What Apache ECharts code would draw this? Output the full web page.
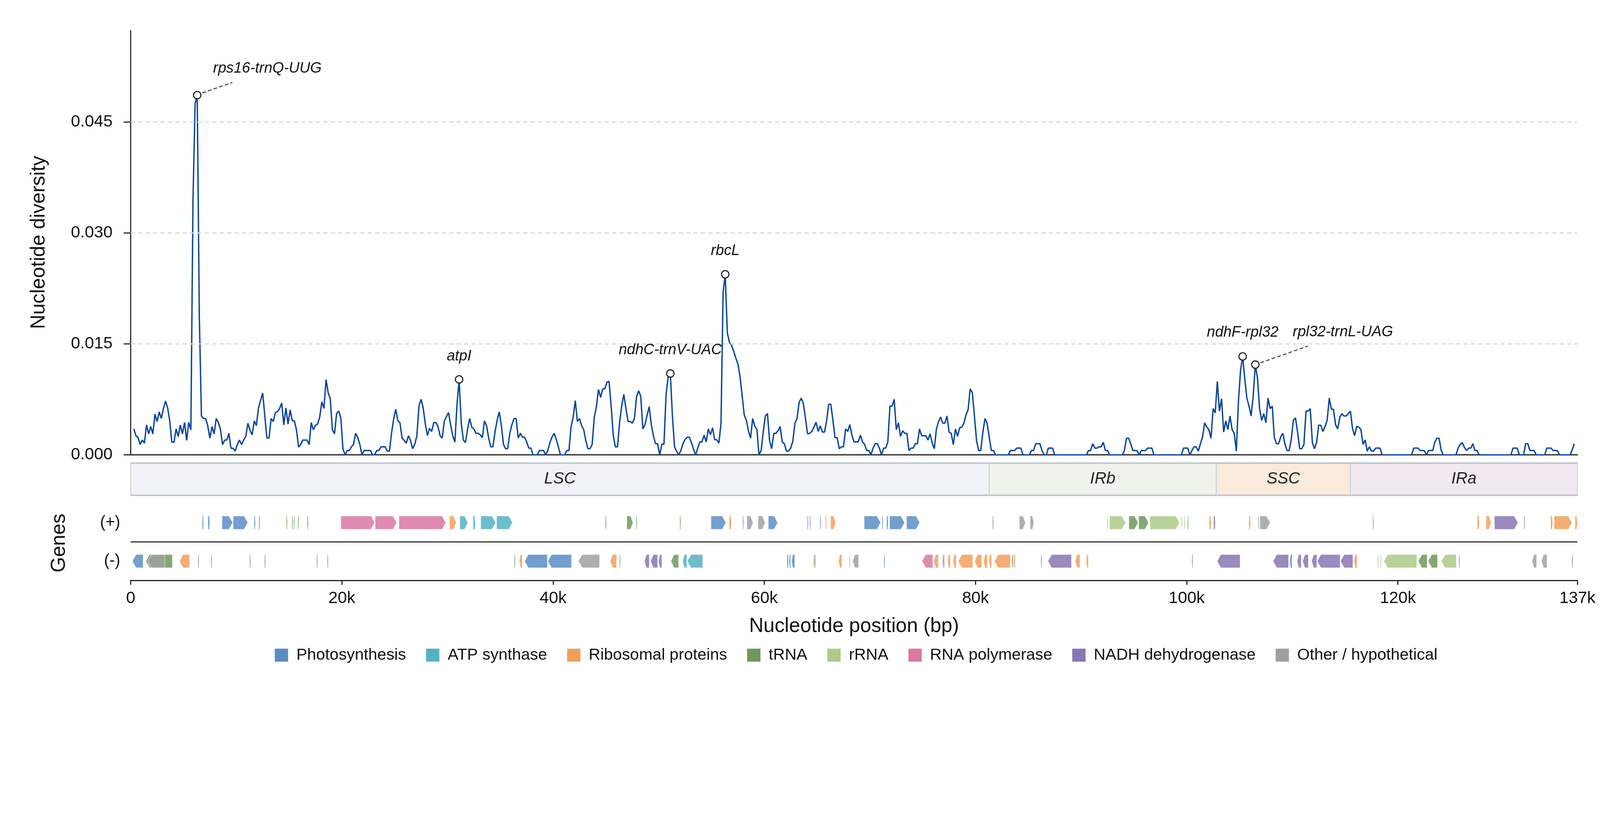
<!DOCTYPE html>
<html><head><meta charset="utf-8">
<script src="https://cdn.jsdelivr.net/npm/echarts@6/dist/echarts.min.js"></script>
<style>html,body{margin:0;padding:0;background:#fff;overflow:hidden}#c{width:100vw;height:100vh}</style>
</head><body><div id="c"></div>
<script>
const FONT = '"Liberation Sans", Arial, Helvetica, sans-serif';

// ---------------- DATA ----------------
const genomeLength = 137000;
const windowFirst = 300, windowStep = 200;   // sliding-window midpoints (bp)
// nucleotide diversity (x 10^-3) per window
const piLSC = [
3.51,2.59,2.34,1.42,2.01,1.59,4.04,2.84,3.84,2.84,
5.51,4.51,5.81,4.92,6.26,7.26,6.34,4.59,1.72,1.72,
3.51,2.51,4.04,2.84,4.39,1.96,4.39,3.39,34.4,47.4,
48.6,18.7,5.26,4.92,4.92,3.92,2.26,3.84,2.84,4.92,
4.39,3.46,1.39,2.01,2.01,2.92,0.89,0.89,0.51,1.42,
2.01,1.39,2.01,2.51,4.29,3.31,2.72,4.59,3.96,6.34,
7.34,8.37,5.26,2.29,2.29,4.92,4.51,5.72,5.84,6.26,
7.01,4.06,6.34,4.17,6.09,4.64,4.59,3.39,1.06,1.42,
2.01,2.01,2.01,1.39,4.37,3.39,4.01,4.17,5.12,7.17,
6.29,10.17,8.42,7.56,3.42,2.84,5.59,5.92,5.01,0.84,
0,0.59,0.59,1.09,1.42,2.92,2.34,1.42,0,0.59,
0.59,0.59,0.59,0,0,0.59,0.59,1.09,1.09,1.09,
0.51,0.51,2.92,4.84,6.17,4.64,4.34,2.29,1.96,1.59,
2.59,1.96,0.84,1.42,2.59,6.59,7.51,6.34,4.17,2.62,
3.59,3.17,4.37,4.37,3.84,2.59,2.29,4.59,5.17,5.72,
4.01,2.59,1.72,6.76,10.2,4.34,2.01,1.67,3.46,4.92,
3.76,3.51,2.92,2.92,2.72,2.34,4.59,3.96,2.26,1.09,
1.09,3.09,4.67,5.81,4.01,1.42,0.84,0.84,2.92,4.09,
4.92,4.92,2.29,2.92,2.39,2.39,1.76,0.92,0.92,0,
0,0,0.59,0.59,0.59,0,0.59,1.67,2.42,2.92,
2.09,1.09,0,0,0,0.59,0.59,3.76,5.09,7.34,
4.51,4.92,3.97,3.42,1.92,0.84,0.84,1.42,5.09,6.51,
8.84,7.76,8.92,8.92,9.84,9.92,6.59,2.59,1.09,1.09,
4.42,6.67,8.17,6.26,4.51,4.51,4.29,4.92,7.84,8.67,
7.92,3.51,4.09,5.34,6.51,4.09,2.59,1.51,1.51,0,
1.46,1.46,8.17,10.59,11.0,5.26,1.09,0.51,0,0.59,
1.51,2.09,2.39,2.39,1.67,0.76,0,0.92,1.76,1.76,
2.67,1.76,3.51,2.72,3.67,2.06,2.06,1.59,4.26,22.0,
24.4,16.5,15.2,14.8,14.0,13.1,12.3,10.6,8.1,5.4,
4.7,3.26,2.26,4.92,3.92,3.42,0,0.59,3.09,5.26,
5.59,1.92,0.84,2.92,2.92,3.26,3.84,1.76,1.51,0.51,
0.51,0.92,1.84,4.26,4.92,7.09,7.67,6.92,4.92,2.84,
2.92,3.17,3.76,4.42,3.17,3.92,3.09,3.09,4.59,6.84,
6.84,4.67,2.34,2.34,0.84,1.09,1.09,3.51,3.17,4.09,
2.67,1.76,1.76,1.76,2.67,1.76,1.42,0.59,0.59,0,
0.92,1.51,1.51,0.92,0,0.92,0.92,1.76,6.59,6.59,
7.51,3.42,4.34,2.51,3.26,2.92,2.92,0.59,0.92,0.92,
1.51,1.51,3.51,2.59,2.59,2.59,2.01,2.84,1.59,0.84,
3.51,4.51,5.12,4.29,4.29,5.26,3.09,2.92,1.39,3.51,
2.51,3.67,3.76,4.26,5.42,6.09,8.92,8.42,5.26,1.92,
0.59,0.59,3.09,4.92,4.29];
const piIRb = [
2.42,0.59,0.59,0,0,
0,0,0,0,0,0.59,0.59,0.59,0.92,0.92,
0.92,0,0,0,0,0.59,0.59,1.51,1.51,1.51,
0.59,0,0,0.92,0.92,0.92,0,0,0,0,
0,0,0,0,0,0,0,0,0,0,
0,0,0.59,0.59,1.51,0.92,0.92,1.09,1.09,1.71,
0.59,0.59,0,0,0,0,0,0,0,0.59,
2.26,2.26,1.51,0.59,0.59,0.59,0,0.59,0.59,0.59,
0.92,0.92,0.92,0,0,0,0,0,0,0,
0,0,0,0,0,0,0,0.92,0.92,0.92,
0,0.59,1.09,1.09,0.51,1.51,2.42,4.34,3.76,3.42,
2.26,6.26,5.67];
const piSSC = [
9.92,5.92,7.59,3.09,4.59,3.42,5.26,
3.42,2.92,0.51,7.26,11.42,13.3,10.25,7.67,6.59,5.26,
8.0,12.2,10.4,6.26,4.67,5.59,4.34,7.67,6.26,6.59,
2.34,1.51,1.51,2.42,2.92,1.51,0.59,0.59,2.09,4.67,
5.01,3.09,0.84,0.84,1.42,5.92,5.92,6.26,1.67,0.84,
1.67,4.01,4.01,3.17,3.84,4.67,7.67,6.17,6.17,4.09,
3.51,5.09,5.59,5.26,5.26,5.59];
const piIRa = [
5.92,3.59,2.59,3.84,
3.76,3.42,1.42,2.01,0.51,1.09,0.51,0.51,0.92,0.92,
0.92,0,0,0,0,0,0,0,0,0,
0,0,0,0,0,0,0.92,0.92,0.92,0.59,
0.59,0.59,0,0.59,0.59,0.59,1.76,2.26,2.26,0.59,
0,0,0,0,0,0,0,0.92,1.42,1.67,
1.01,0.59,0.92,0.92,1.51,0.59,0.59,0,0,0,
0,0,0,0,0,0,0,0,0,0,
0,0,0,0.92,0.92,0.92,0,0,0,1.51,
1.51,0.59,0.59,0.59,0,0,0,0,0,0.92,
0.92,0.92,0.59,0.59,0.59,0,0,0,0,0,
0,0.67,1.51];

const yTicks = [0, 15, 30, 45];                 // x 10^-3
const xTickStep = 20000;

const regionNames  = ['LSC', 'IRb', 'SSC', 'IRa'];
const regionStarts = [0, 81300, 102800, 115500];
const regionEnds   = [81300, 102800, 115500, 137000];

const peakNames = ['rps16-trnQ-UUG', 'atpI', 'ndhC-trnV-UAC', 'rbcL', 'ndhF-rpl32', 'rpl32-trnL-UAG'];
const peakPos   = [6300, 31100, 51100, 56300, 105300, 106500];
const peakVal   = [48.6, 10.2, 11.0, 24.4, 13.3, 12.2];

const categoryKeys  = ['ps', 'atp', 'rib', 'trna', 'rrna', 'rpo', 'ndh', 'oth'];
const categoryNames = ['Photosynthesis', 'ATP synthase', 'Ribosomal proteins', 'tRNA', 'rRNA', 'RNA polymerase', 'NADH dehydrogenase', 'Other / hypothetical'];

// [start, end, category]
const genesPlus = [
[6800,6900,'ps'],[7330,7480,'ps'],[8650,9660,'ps'],[9700,11090,'ps'],[11700,11800,'ps'],[12150,12230,'ps'],
[14760,14830,'trna'],[15280,15350,'trna'],[15460,15530,'trna'],[15860,15930,'trna'],[16730,16810,'ps'],
[19900,23110,'rpo'],[23150,25190,'rpo'],[25400,29850,'rpo'],[30190,30830,'rib'],
[31170,31930,'atp'],[32440,32640,'atp'],[33150,34570,'atp'],[34650,36160,'atp'],
[44960,45040,'trna'],[46980,47570,'trna'],[47880,47950,'trna'],[52010,52090,'trna'],
[54950,56370,'ps'],[56680,56910,'rib'],[57970,58040,'ps'],[58350,58930,'oth'],[59410,60080,'oth'],[60380,61270,'ps'],
[64090,64160,'ps'],[64310,64380,'ps'],[65280,65350,'ps'],[65810,65890,'rib'],[66280,66770,'rib'],
[69460,71020,'ps'],[71170,71240,'ps'],[71600,71730,'ps'],[71870,73290,'ps'],[73470,74720,'ps'],
[81630,81700,'trna'],[84150,84730,'oth'],[85170,85530,'oth'],
[92480,92550,'rrna'],[92690,94210,'rrna'],[94520,95410,'trna'],[95450,96390,'trna'],[96520,99320,'rrna'],
[99510,99580,'rrna'],[99780,99850,'rrna'],[100090,100160,'trna'],
[102130,102350,'rib'],[102560,102700,'ndh'],[105900,106040,'rib'],[106770,106840,'oth'],[106930,107910,'oth'],
[117630,117700,'trna'],[127530,127710,'rib'],[128340,128830,'rib'],[129140,131370,'ndh'],[131950,132020,'trna'],
[134480,134650,'rib'],[134790,136490,'rib'],[136790,136990,'rib']
];
const genesMinus = [
[160,1180,'ps'],[1440,3950,'trna'],[1620,3240,'oth'],[4610,5580,'rib'],[6380,6450,'trna'],[7610,7680,'trna'],
[11270,11340,'trna'],[12680,12750,'trna'],[17610,17680,'ps'],[18620,18690,'trna'],
[36330,36400,'trna'],[36800,37080,'rib'],[37300,39460,'ps'],[39500,41750,'ps'],[42400,44400,'oth'],
[45400,46020,'rib'],[46290,46360,'trna'],[48650,49110,'ndh'],[49230,49900,'ndh'],[49980,50300,'ndh'],
[51160,51890,'trna'],[52270,52670,'atp'],[52710,54170,'atp'],
[62140,62260,'ps'],[62360,62480,'ps'],[62580,62890,'ps'],[64680,64750,'trna'],[64790,64850,'trna'],
[67030,67340,'rib'],[68050,68120,'rib'],[68350,68930,'oth'],[71340,71410,'ps'],
[74940,75960,'rpo'],[76050,76490,'rib'],[76850,77070,'oth'],[77340,77610,'rib'],[77870,78180,'rib'],
[78360,79740,'rib'],[79920,80590,'rib'],[80770,81120,'rib'],[81260,81520,'rib'],[81790,83300,'rib'],
[83390,83610,'rib'],[83670,83740,'trna'],[86200,86270,'trna'],[86860,89090,'ndh'],[89440,89890,'rib'],
[90470,90690,'rib'],[100500,100570,'trna'],
[102880,105060,'ndh'],[108180,109650,'ndh'],[109780,109960,'ps'],[110450,110850,'ndh'],[110980,111520,'ndh'],
[111830,112320,'ndh'],[112360,114530,'ndh'],[114560,115740,'ndh'],[115830,116140,'rib'],
[118070,118140,'rrna'],[118340,118410,'rrna'],[118680,121790,'rrna'],[121930,122770,'trna'],[122860,123750,'trna'],
[124110,125530,'rrna'],[125770,125840,'trna'],[132700,133140,'oth'],[133590,134120,'oth'],[136490,136560,'trna']
];

// ---------------- STYLE / LAYOUT (reference pixels, scaled to viewport) ----------------
const REF_W = 4322, REF_H = 2102;
const S = Math.min(window.innerWidth / REF_W, window.innerHeight / REF_H);
const P = v => v * S;

const CAT_COLOR = {ps:'#5b8dc5', atp:'#54b2c3', rib:'#f0a05c', trna:'#6d995c', rrna:'#acca88', rpo:'#da77a3', ndh:'#8b74b3', oth:'#a0a0a0'};
const REGION_FILL = {LSC:'#eff3f7', IRb:'#eef3ec', SSC:'#faeadb', IRa:'#f2e8f2'};
const TRACK_Y = {plus: 1.5, minus: 0.5};
const GENE_HALF_H = 18, HEAD_PX = 10;
const PEAK_LABEL = {
  'rps16-trnQ-UUG': {dx: 43, dy: -72, align: 'left', leader: [14, -6, 95, -34]},
  'atpI':           {dx: 0, dy: -62, align: 'center'},
  'ndhC-trnV-UAC':  {dx: 0, dy: -63, align: 'center'},
  'rbcL':           {dx: 0, dy: -63, align: 'center'},
  'ndhF-rpl32':     {dx: 0, dy: -65, align: 'center'},
  'rpl32-trnL-UAG': {dx: 101, dy: -88, align: 'left', leader: [14, -5, 142, -50]}
};

const piAll = piLSC.concat(piIRb, piSSC, piIRa);
const lineData = piAll.map((v, i) => [windowFirst + windowStep * i, v]);

function renderGene(params, api) {
  const s = api.value(0), e = api.value(1), ty = api.value(2), dir = api.value(3);
  const p0 = api.coord([s, ty]), p1 = api.coord([e, ty]);
  let x0 = p0[0], x1 = p1[0];
  const minW = P(2);
  if (x1 - x0 < minW) { const m = (x0 + x1) / 2; x0 = m - minW / 2; x1 = m + minW / 2; }
  const w = x1 - x0, head = Math.min(P(HEAD_PX), w * 0.4), yc = p0[1], h = P(GENE_HALF_H);
  const pts = dir > 0
    ? [[x0, yc - h], [x1 - head, yc - h], [x1, yc], [x1 - head, yc + h], [x0, yc + h]]
    : [[x1, yc - h], [x0 + head, yc - h], [x0, yc], [x0 + head, yc + h], [x1, yc + h]];
  const big = w > P(6);
  return {type: 'polygon', shape: {points: pts},
    style: {fill: api.visual('color'), opacity: 0.85, stroke: big ? 'rgba(255,255,255,0.75)' : null, lineWidth: big ? P(1.5) : 0}};
}

function renderRegion(params, api) {
  const cs = params.coordSys;
  const x0 = api.coord([api.value(0), 0.5])[0], x1 = api.coord([api.value(1), 0.5])[0];
  const name = regionNames[params.dataIndex];
  return {type: 'group', children: [
    {type: 'rect', shape: {x: x0, y: cs.y, width: x1 - x0, height: cs.height}, style: {fill: REGION_FILL[name], stroke: '#c5cacd', lineWidth: P(2)}},
    {type: 'line', shape: {x1: x0, y1: cs.y, x2: x1, y2: cs.y}, style: {stroke: '#bac4cc', lineWidth: P(4)}},
    {type: 'line', shape: {x1: x0, y1: cs.y + cs.height, x2: x1, y2: cs.y + cs.height}, style: {stroke: '#bac4cc', lineWidth: P(4)}},
    {type: 'text', style: {x: (x0 + x1) / 2, y: cs.y + cs.height / 2, text: name, font: 'italic ' + P(44) + 'px ' + FONT, fill: '#222', align: 'center', verticalAlign: 'middle'}}
  ]};
}

function renderPeak(params, api) {
  const p = api.coord([api.value(0), api.value(1)]);
  const name = peakNames[params.dataIndex];
  const st = PEAK_LABEL[name];
  const ch = [];
  if (st.leader) ch.push({type: 'line', shape: {x1: p[0] + P(st.leader[0]), y1: p[1] + P(st.leader[1]), x2: p[0] + P(st.leader[2]), y2: p[1] + P(st.leader[3])},
    style: {stroke: '#444', lineWidth: P(2.8), lineDash: [P(10), P(6)]}});
  ch.push({type: 'circle', shape: {cx: p[0], cy: p[1], r: P(10)}, style: {fill: '#fff', stroke: '#222', lineWidth: P(3)}});
  ch.push({type: 'text', style: {x: p[0] + P(st.dx), y: p[1] + P(st.dy), text: name, font: 'italic ' + P(40) + 'px ' + FONT, fill: '#111', align: st.align, verticalAlign: 'middle'}});
  return {type: 'group', children: ch};
}

const geneSeries = categoryKeys.map((k, ci) => {
  const data = [];
  genesPlus.forEach(g => { if (g[2] === k) data.push([g[0], g[1], TRACK_Y.plus, 1]); });
  genesMinus.forEach(g => { if (g[2] === k) data.push([g[0], g[1], TRACK_Y.minus, -1]); });
  const s = {type: 'custom', name: categoryNames[ci], xAxisIndex: 2, yAxisIndex: 2, renderItem: renderGene,
    itemStyle: {color: CAT_COLOR[k]}, encode: {x: [0, 1], y: 2}, data: data, silent: true, z: 3};
  if (ci === 0) s.markLine = {symbol: 'none', silent: true, label: {show: false},
    lineStyle: {color: '#333', width: P(3.3), type: 'solid'}, data: [{yAxis: 1}]};
  return s;
});

const chart = echarts.init(document.getElementById('c'), null, {renderer: 'canvas'});
chart.setOption({
  animation: false,
  backgroundColor: '#fff',
  textStyle: {fontFamily: FONT},
  grid: [
    {left: P(353), top: P(83), width: P(3908), height: P(1146)},
    {left: P(353), top: P(1251), width: P(3908), height: P(87)},
    {left: P(353), top: P(1360), width: P(3908), height: P(208)}
  ],
  xAxis: [
    {gridIndex: 0, type: 'value', min: 0, max: genomeLength, axisLine: {show: true, lineStyle: {color: '#222', width: P(3.3)}},
      axisTick: {show: false}, axisLabel: {show: false}, splitLine: {show: false}},
    {gridIndex: 1, type: 'value', min: 0, max: genomeLength, show: false},
    {gridIndex: 2, type: 'value', min: 0, max: genomeLength, interval: xTickStep,
      axisLine: {show: true, onZero: false, lineStyle: {color: '#222', width: P(3.3)}},
      axisTick: {show: true, length: P(12), lineStyle: {color: '#222', width: P(3)}},
      axisLabel: {fontSize: P(45), color: '#111', margin: P(26), fontFamily: FONT, formatter: v => v === 0 ? '0' : (v / 1000) + 'k'},
      splitLine: {show: false}}
  ],
  yAxis: [
    {gridIndex: 0, type: 'value', min: yTicks[0], max: 57.3, interval: yTicks[1] - yTicks[0],
      axisLine: {show: true, lineStyle: {color: '#222', width: P(3)}},
      axisTick: {show: true, length: P(19), lineStyle: {color: '#222', width: P(3)}},
      axisLabel: {fontSize: P(45), color: '#111', margin: P(49), fontFamily: FONT, showMaxLabel: false, formatter: v => (v / 1000).toFixed(3)},
      splitLine: {show: false}},
    {gridIndex: 1, type: 'value', min: 0, max: 1, show: false},
    {gridIndex: 2, type: 'value', min: 0, max: 2, interval: 0.5,
      axisLine: {show: false}, axisTick: {show: false}, splitLine: {show: false},
      axisLabel: {fontSize: P(44), color: '#111', margin: P(28), fontFamily: FONT,
        formatter: v => v === TRACK_Y.plus ? '(+)' : (v === TRACK_Y.minus ? '(-)' : '')}}
  ],
  legend: {data: categoryNames, left: P(737), top: P(1743), icon: 'rect', itemWidth: P(36), itemHeight: P(35), itemGap: P(54),
    selectedMode: false, textStyle: {fontFamily: FONT, fontSize: P(43.7), color: '#111', padding: [0, 0, 0, P(17)]}},
  graphic: [
    {type: 'text', x: P(105), y: P(655), rotation: Math.PI / 2, style: {text: 'Nucleotide diversity', font: P(54) + 'px ' + FONT, fill: '#111', align: 'center', verticalAlign: 'middle'}},
    {type: 'text', x: P(160), y: P(1467), rotation: Math.PI / 2, style: {text: 'Genes', font: P(54) + 'px ' + FONT, fill: '#111', align: 'center', verticalAlign: 'middle'}},
    {type: 'text', x: P(2307), y: P(1692), style: {text: 'Nucleotide position (bp)', font: P(54) + 'px ' + FONT, fill: '#111', align: 'center', verticalAlign: 'middle'}}
  ],
  series: [
    {type: 'line', xAxisIndex: 0, yAxisIndex: 0, data: [[0, 0]], symbol: 'none', lineStyle: {opacity: 0}, silent: true, z: 1,
      markLine: {symbol: 'none', silent: true, label: {show: false}, lineStyle: {color: '#d6dce2', width: P(3), type: [P(12), P(8)]},
        data: yTicks.slice(1).map(t => ({yAxis: t}))}},
    {type: 'line', name: 'pi', xAxisIndex: 0, yAxisIndex: 0, data: lineData, symbol: 'none', showSymbol: false, silent: true,
      lineStyle: {color: '#0c4697', width: P(3.7)}, z: 3},
    {type: 'custom', xAxisIndex: 0, yAxisIndex: 0, renderItem: renderPeak, data: peakPos.map((p, i) => [p, peakVal[i]]),
      encode: {x: 0, y: 1}, silent: true, z: 5},
    {type: 'custom', xAxisIndex: 1, yAxisIndex: 1, renderItem: renderRegion, data: regionStarts.map((s, i) => [s, regionEnds[i]]),
      encode: {x: [0, 1]}, silent: true, z: 2}
  ].concat(geneSeries)
});
window.addEventListener('resize', () => chart.resize());
</script>
</body></html>
